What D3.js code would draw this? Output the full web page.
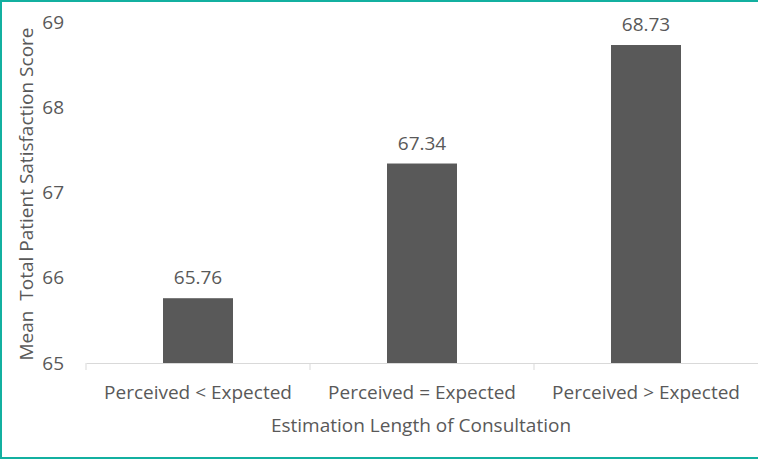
<!DOCTYPE html>
<html><head><meta charset="utf-8">
<script src="https://cdn.jsdelivr.net/npm/d3@7"></script>
<style>html,body{margin:0;padding:0;background:#fff;}svg{display:block;}</style>
</head><body>
<script>
const categories = ["Perceived < Expected", "Perceived = Expected", "Perceived > Expected"];
const values = [65.76, 67.34, 68.73];
const yTicks = [65, 66, 67, 68, 69];
const xTitle = "Estimation Length of Consultation";
const yTitle = "Mean  Total Patient Satisfaction Score";

(function () {
const W = 758, H = 460;
const font = "'Open Sans', sans-serif";
const textColor = "#595959";
const svg = d3.select("body").append("svg").attr("width", W).attr("height", H);
svg.append("rect").attr("width", W).attr("height", H).attr("fill", "#fff");

const mLeft = 86, mRight = 758, mTop = 22, mBottom = 363;
const x = d3.scaleBand().domain(categories).range([mLeft, mRight]).paddingInner(0.6875).paddingOuter(0.34375);
const y = d3.scaleLinear().domain([65, 69]).range([mBottom, mTop]);

// y tick labels
svg.append("g").selectAll("text").data(yTicks).join("text")
  .attr("x", 64).attr("y", d => y(d)).attr("dy", "0.35em")
  .attr("text-anchor", "end").attr("font-family", font).attr("font-size", 19)
  .attr("fill", textColor).text(d => d);

// x axis
const xAxis = d3.axisBottom(x).tickSize(0).tickFormat(() => "");
const gx = svg.append("g").attr("transform", `translate(0,${mBottom})`).call(xAxis);
gx.select(".domain").attr("stroke", "#d9d9d9").attr("stroke-width", 1);
// category boundary ticks
const bounds = [mLeft, ...categories.map(c => x(c) + x.bandwidth() + x.step() * x.paddingInner() / 2)];
svg.append("g").selectAll("line").data(bounds.slice(0, 3)).join("line")
  .attr("x1", d => d).attr("x2", d => d).attr("y1", mBottom).attr("y2", mBottom + 7)
  .attr("stroke", "#d9d9d9");

// bars
svg.append("g").selectAll("rect").data(values).join("rect")
  .attr("x", (d, i) => x(categories[i])).attr("width", x.bandwidth())
  .attr("y", d => y(d)).attr("height", d => y(65) - y(d))
  .attr("fill", "#595959");

// value labels
svg.append("g").selectAll("text").data(values).join("text")
  .attr("x", (d, i) => x(categories[i]) + x.bandwidth() / 2).attr("y", d => y(d) - 14)
  .attr("text-anchor", "middle").attr("font-family", font).attr("font-size", 19)
  .attr("fill", textColor).text(d => d.toFixed(2));

// category labels
svg.append("g").selectAll("text").data(categories).join("text")
  .attr("x", d => x(d) + x.bandwidth() / 2).attr("y", 399)
  .attr("text-anchor", "middle").attr("font-family", font).attr("font-size", 19)
  .attr("fill", textColor).text(d => d);

// axis titles
svg.append("text").attr("x", 421).attr("y", 432).attr("text-anchor", "middle")
  .attr("font-family", font).attr("font-size", 19).attr("fill", textColor).text(xTitle);
svg.append("text").attr("transform", `translate(33,194) rotate(-90)`).attr("text-anchor", "middle")
  .attr("font-family", font).attr("font-size", 19).attr("fill", textColor)
  .style("white-space", "pre").text(yTitle);

// border
svg.append("path").attr("d", `M${W},1 H1 V${H - 2} H${W}`).attr("fill", "none")
  .attr("stroke", "#13b0a0").attr("stroke-width", 2);
})();
</script>
</body></html>
